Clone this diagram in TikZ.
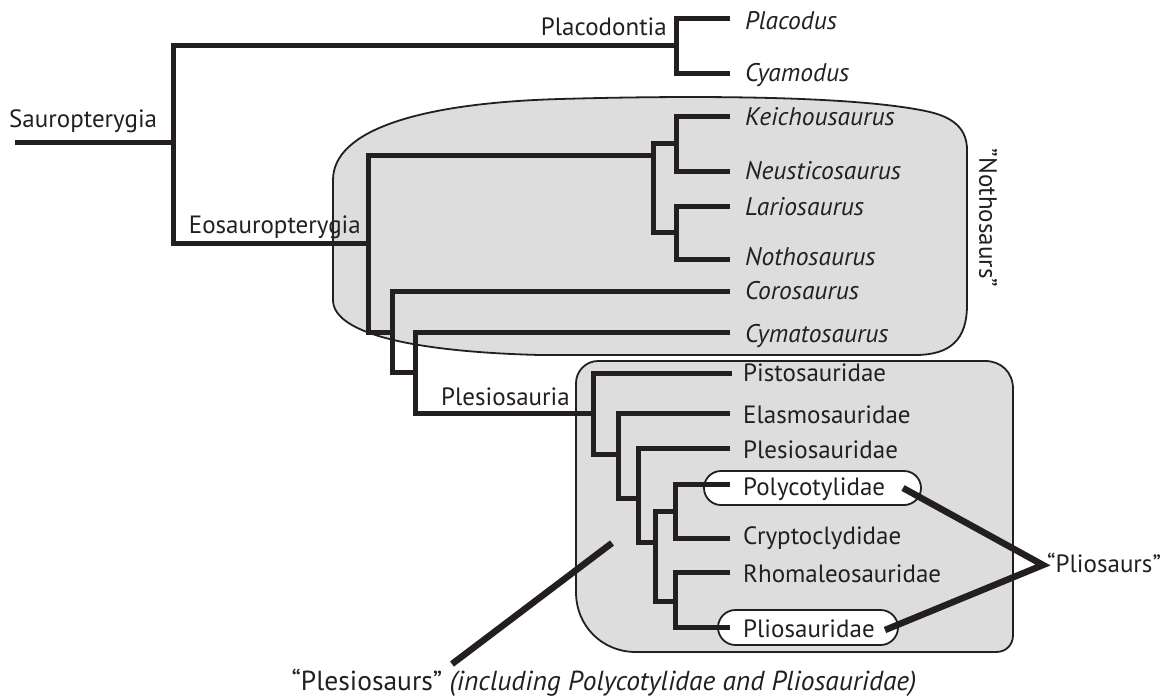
\documentclass[tikz,border=0pt]{standalone}
\usepackage{fontspec}
\setmainfont{PT Sans}
\usetikzlibrary{shapes.misc}
\definecolor{ink}{RGB}{35,31,32}
\definecolor{boxgray}{RGB}{221,221,221}
\begin{document}
\begin{tikzpicture}[x=1pt,y=-1pt,
  branch/.style={draw=ink,line width=5pt,line join=miter,line cap=butt},
  pointer/.style={draw=ink,line width=6.5pt,line join=miter,line cap=butt},
  cladebox/.style={draw=ink,fill=boxgray,line width=1.8pt},
  pill/.style={rounded rectangle,draw=ink,fill=white,line width=1.8pt,inner sep=0pt},
  lab/.style={anchor=base west,inner sep=0pt,text=ink,font=\fontsize{25}{30}\selectfont},
  taxon/.style={lab,font=\fontsize{25.5}{30}\selectfont\itshape},
  fam/.style={lab}]
\useasboundingbox (0,0) rectangle (1167,696);
% clade boxes
\path[cladebox] (333,300) -- (333,180) .. controls (333,130) and (420,103) .. (560,99)
  .. controls (700,95) and (860,96) .. (930,112) .. controls (955,118) and (967,130) .. (967,150)
  -- (967,305) .. controls (967,340) and (950,355) .. (915,355) -- (540,355)
  .. controls (420,352) and (333,335) .. (333,300) -- cycle;
\path[cladebox] (598,361) -- (985,361) .. controls (1001,361) and (1013,372) .. (1013,389)
  -- (1013,635) .. controls (1013,645) and (1006,652) .. (996,652) -- (636,652)
  .. controls (602,652) and (576,626) .. (576,592) -- (576,383)
  .. controls (576,371) and (586,361) .. (598,361) -- cycle;
% pills
\node[pill,minimum width=217pt,minimum height=34pt] (pPoly) at (812.5,488) {};
\node[pill,minimum width=180pt,minimum height=35pt] (pPlio) at (808,627.5) {};
% coordinates
\coordinate (root) at (15,142);
\coordinate (nSau) at (173,142);
\coordinate (nPla) at (676,45);
\coordinate (nEos) at (368,243);
\coordinate (nNot) at (653,155);
\coordinate (nKN) at (676,143);
\coordinate (nLN) at (676,232);
\coordinate (nCor) at (392,332);
\coordinate (nCym) at (415,372);
\coordinate (nPle) at (593,413);
\coordinate (nEla) at (618,454);
\coordinate (nPls) at (638,498);
\coordinate (nA) at (655,542);
\coordinate (nPC) at (675,511);
\coordinate (nRP) at (675,601);
\coordinate (tPlacodus) at (730,18);
\coordinate (tCyamodus) at (730,73);
\coordinate (tKei) at (730,116);
\coordinate (tNeu) at (730,171);
\coordinate (tLar) at (730,206);
\coordinate (tNot) at (730,259);
\coordinate (tCor) at (730,291);
\coordinate (tCym) at (730,332);
\coordinate (tPis) at (732,373);
\coordinate (tEla) at (730,413);
\coordinate (tPls) at (730,448);
\coordinate (tPol) at (730,484);
\coordinate (tCry) at (730,538);
\coordinate (tRho) at (730,572);
\coordinate (tPli) at (730,627);
% tree
\draw[branch] (root) -- (nSau);
\draw[branch] (nPla) -| (nSau) |- (nEos);
\draw[branch] (tPlacodus) -| (nPla) |- (tCyamodus);
\draw[branch] (nNot) -| (nEos) |- (nCor);
\draw[branch] (nNot) |- (nKN);
\draw[branch] (nNot) |- (nLN);
\draw[branch] (tKei) -| (nKN) |- (tNeu);
\draw[branch] (tLar) -| (nLN) |- (tNot);
\draw[branch] (tCor) -| (nCor) |- (nCym);
\draw[branch] (tCym) -| (nCym) |- (nPle);
\draw[branch] (tPis) -| (nPle) |- (nEla);
\draw[branch] (tEla) -| (nEla) |- (nPls);
\draw[branch] (tPls) -| (nPls) |- (nA);
\draw[branch] (nPC) -| (nA) |- (nRP);
\draw[branch] (tPol) -| (nPC) |- (tCry);
\draw[branch] (tRho) -| (nRP) |- (tPli);
% pointers
\coordinate (polEnd) at (903,488);
\coordinate (pliEnd) at (885,630);
\coordinate (vPlio) at (1043,565);
\coordinate (pleA) at (612,543);
\coordinate (pleB) at (452,664);
\draw[pointer] (polEnd) -- (vPlio) -- (pliEnd);
\draw[pointer] (pleA) -- (pleB);
% labels
\node[lab] (lSau) at (9,127) {Sauropterygia};
\node[lab,anchor=base east] (lPla) at (667,35) {Placodontia};
\node[lab,anchor=base east] (lEos) at (361,233) {Eosauropterygia};
\node[lab,anchor=base east] (lPle) at (570,405) {Plesiosauria};
\node[taxon] (xPlacodus) at (745,29) {Placodus};
\node[taxon] (xCyamodus) at (745,81) {Cyamodus};
\node[taxon] (xKei) at (745,125) {Keichousaurus};
\node[taxon] (xNeu) at (745,179) {Neusticosaurus};
\node[taxon] (xLar) at (745,215) {Lariosaurus};
\node[taxon] (xNot) at (745,265) {Nothosaurus};
\node[taxon] (xCor) at (745,299) {Corosaurus};
\node[taxon] (xCym) at (745,342) {Cymatosaurus};
\node[fam] (xPis) at (743,381) {Pistosauridae};
\node[fam] (xEla) at (743,423) {Elasmosauridae};
\node[fam] (xPls) at (743,458) {Plesiosauridae};
\node[fam] (xPol) at (743,495) {Polycotylidae};
\node[fam] (xCry) at (743,544) {Cryptoclydidae};
\node[fam] (xRho) at (743,582) {Rhomaleosauridae};
\node[fam] (xPli) at (743,637) {Pliosauridae};
\node[lab] (lPlio) at (1047,572) {“Pliosaurs”};
\node[lab,anchor=center,rotate=-90] (lNoth) at (988,218) {"Nothosaurs"};
\node[lab,anchor=base,font=\fontsize{27.5}{32}\selectfont] (lPles) at (604,690) {“Plesiosaurs" \textit{(including Polycotylidae and Pliosauridae)}};
\end{tikzpicture}
\end{document}
